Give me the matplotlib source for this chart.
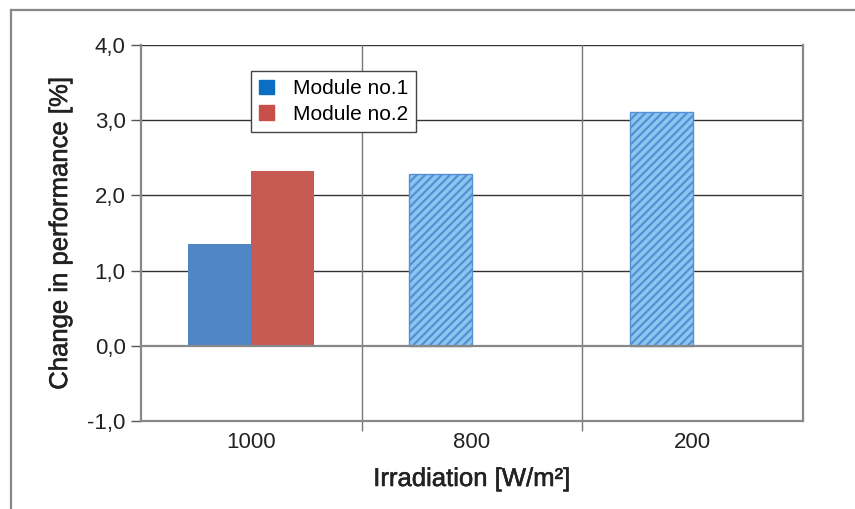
import matplotlib.pyplot as plt
import numpy as np
import matplotlib.patheffects as pe
from matplotlib.patches import Patch
from matplotlib.lines import Line2D

plt.rcParams['font.family'] = ['Liberation Sans', 'DejaVu Sans']
plt.rcParams['hatch.linewidth'] = 1.6

categories = ["1000", "800", "200"]
module1 = [1.35, 2.28, 3.11]
module2 = [2.32, np.nan, np.nan]
hatched = [False, True, True]   # striped bars for 800 and 200
yticks = [-1, 0, 1, 2, 3, 4]

blue = "#4f86c6"
red = "#c85a54"
light = "#8ac6f0"
stripe = "#5590d4"

fig = plt.figure(figsize=(8.55, 5.09), dpi=100)
ax = fig.add_axes([0.1649, 0.1729, 0.9392 - 0.1649, 0.9116 - 0.1729])

x = np.arange(len(categories))
w = 0.285
for i in range(len(categories)):
    if hatched[i]:
        ax.bar(x[i] - w, module1[i], w, align='edge', color=light, edgecolor=stripe,
               hatch='////', linewidth=1, zorder=3)
    else:
        ax.bar(x[i] - w, module1[i], w, align='edge', color=blue, zorder=3)
    if not np.isnan(module2[i]):
        ax.bar(x[i], module2[i], w, align='edge', color=red, zorder=3)

ax.set_xlim(-0.5, 2.5)
ax.set_ylim(-1, 4)
ax.set_yticks(yticks)
ax.set_yticklabels([f"{v:.1f}".replace(".", ",") for v in yticks], fontsize=16, color="#222")
ax.set_xticks(x)
ax.set_xticklabels(categories, fontsize=16, color="#222")
ax.set_xticks([0.5, 1.5], minor=True)
ax.tick_params(axis='x', which='major', length=0, pad=8)
ax.tick_params(axis='x', which='minor', length=7, width=1, color="#777")
ax.tick_params(axis='y', length=7, width=1, color="#555", pad=4)

for v in [1, 2, 3, 4]:
    ax.axhline(v, color="#333", lw=1, zorder=1)
ax.axhline(0, color="#888", lw=1.6, zorder=4)
for v in [0.5, 1.5]:
    ax.axvline(v, color="#777", lw=1, zorder=1)

for s in ['left', 'right', 'bottom']:
    ax.spines[s].set_color("#888")
    ax.spines[s].set_linewidth(1.6)
ax.spines['top'].set_visible(False)

thick = [pe.withStroke(linewidth=0.4, foreground="#222")]
ax.set_ylabel("Change in performance [%]", fontsize=18.5, labelpad=11, color="#222",
              path_effects=thick)
ax.set_xlabel("Irradiation [W/m²]", fontsize=18.5, labelpad=10, color="#222",
              path_effects=thick)

handles = [Patch(color="#0a6fc2", label="Module no.1"),
           Patch(color="#c8504b", label="Module no.2")]
leg = ax.legend(handles=handles, loc='upper left', bbox_to_anchor=(0.166, 0.931),
                borderaxespad=0, fontsize=15, fancybox=False, framealpha=1,
                edgecolor="#444", handlelength=0.7, handleheight=0.7,
                handletextpad=0.9, borderpad=0.4, labelspacing=0.3)
leg.get_frame().set_linewidth(1)
leg.set_zorder(5)

fig.add_artist(Line2D([11 / 855, 1], [1 - 10 / 509, 1 - 10 / 509], color="#888", lw=1.6))
fig.add_artist(Line2D([11 / 855, 11 / 855], [0, 1 - 10 / 509], color="#888", lw=1.6))

fig.savefig("out.png", dpi=100)
